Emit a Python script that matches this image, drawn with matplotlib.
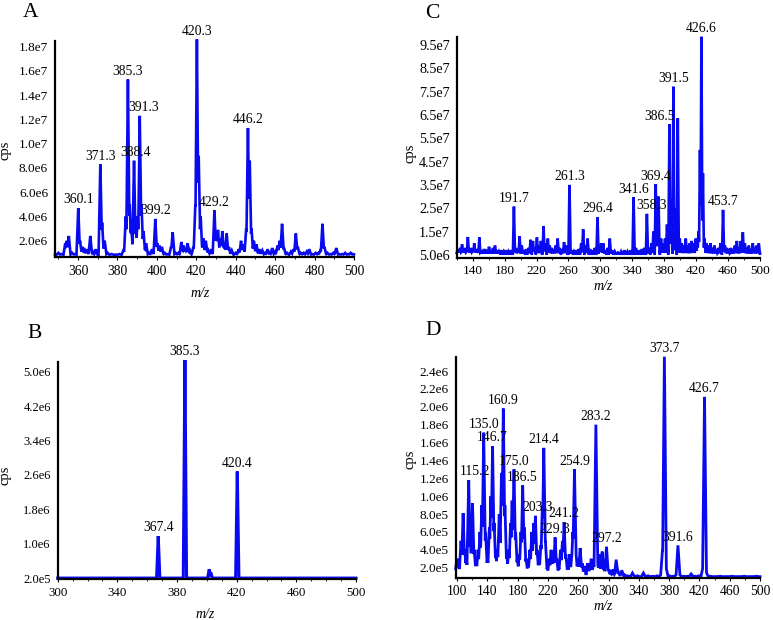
import numpy as np
import matplotlib
matplotlib.use("Agg")
import matplotlib.pyplot as plt
from matplotlib.ticker import MultipleLocator, FixedLocator, FuncFormatter

plt.rcParams['font.family'] = ['Liberation Serif', 'DejaVu Serif']

# ---------------- data (m/z, intensity in cps) ----------------
mz_A = [
    350.0, 351.5, 353.5, 354.3, 355.3, 357.0, 358.5, 360.1, 361.0, 362.3,
    363.5, 364.5, 366.2, 367.5, 369.0, 371.3, 372.2, 373.5, 375.0, 377.0,
    379.0, 381.0, 383.0, 384.2, 385.3, 386.2, 387.0, 388.4, 389.3, 390.2,
    391.3, 392.2, 393.2, 394.5, 396.0, 397.5, 399.2, 400.2, 401.3, 402.5,
    404.0, 405.5, 407.2, 408.0, 409.5, 411.0, 412.4, 413.6, 414.6, 415.6,
    416.8, 418.5, 419.5, 420.3, 421.2, 422.2, 423.5, 424.8, 426.0, 427.5,
    429.2, 430.2, 431.0, 432.2, 433.2, 434.2, 435.4, 436.5, 438.0, 440.0,
    441.5, 442.7, 443.8, 445.3, 446.2, 447.1, 448.0, 449.2, 450.5, 452.0,
    453.5, 455.0, 456.2, 457.3, 458.5, 460.0, 461.2, 462.3, 463.5, 464.5,
    466.0, 468.0, 469.3, 470.5, 471.5, 473.0, 474.5, 476.0, 477.3, 478.8,
    480.5, 482.0, 483.0, 484.0, 485.0, 486.5, 488.0, 489.5, 491.0, 492.5,
    494.0, 495.5, 497.0, 498.3, 499.5]
int_A_e6 = [
    1.0, 0.9, 1.8, 2.0, 2.4, 1.0, 0.9, 4.7, 2.0, 1.5,
    1.2, 1.3, 2.4, 1.1, 1.3, 8.3, 3.5, 2.0, 1.0, 0.9,
    0.8, 0.9, 1.2, 4.0, 15.3, 5.0, 3.2, 8.6, 3.0, 4.0,
    12.3, 5.0, 2.8, 1.8, 1.0, 1.3, 3.8, 1.8, 1.6, 1.5,
    1.0, 0.9, 1.5, 2.7, 1.0, 1.0, 1.9, 1.6, 1.3, 1.8,
    1.2, 1.5, 5.0, 18.6, 9.0, 4.0, 2.2, 2.0, 1.2, 1.3,
    4.5, 2.6, 2.9, 2.2, 2.8, 1.8, 2.6, 1.5, 1.2, 1.0,
    1.3, 2.0, 1.7, 3.0, 11.3, 8.6, 3.0, 2.0, 1.7, 1.3,
    1.2, 1.0, 1.3, 1.0, 1.4, 1.1, 1.6, 2.0, 3.4, 1.4,
    1.0, 1.1, 1.3, 2.6, 1.5, 1.0, 1.0, 1.1, 1.3, 0.9,
    1.0, 1.0, 1.2, 3.4, 1.5, 1.0, 0.9, 1.0, 1.4, 0.9,
    0.9, 1.0, 0.9, 1.0, 0.9]
labels_A = [360.1, 371.3, 385.3, 388.4, 391.3, 399.2, 420.3, 429.2, 446.2]
xticks_A = [360, 380, 400, 420, 440, 460, 480, 500]

mz_B = [367.4, 385.3, 401.6, 402.6, 420.4]
int_B_e5 = [11.8, 52.7, 4.1, 3.4, 26.8]
labels_B = [367.4, 385.3, 420.4]
xticks_B = [300, 340, 380, 420, 460, 500]

mz_C = [
    121.0, 123.0, 124.5, 126.7, 128.5, 130.5, 132.5, 134.0, 136.0, 138.0,
    140.0, 142.0, 144.0, 146.0, 148.4, 150.5, 153.0, 155.5, 158.0, 160.5,
    163.0, 165.5, 168.0, 170.5, 173.0, 176.0, 179.0, 182.0, 185.0, 188.0,
    191.7, 194.0, 196.5, 198.8, 201.5, 204.0, 207.0, 210.0, 212.5, 215.5,
    217.5, 220.5, 223.0, 225.5, 228.8, 231.0, 234.2, 236.5, 239.0, 241.5,
    244.0, 246.5, 249.0, 252.0, 254.5, 257.0, 261.3, 264.0, 267.0, 270.0,
    273.0, 276.0, 278.4, 281.5, 284.0, 287.0, 290.0, 293.0, 296.4, 299.0,
    301.0, 303.5, 306.0, 309.0, 311.8, 314.5, 318.0, 322.0, 326.0, 330.0,
    334.0, 338.0, 341.6, 344.5, 348.0, 352.0, 355.0, 358.3, 361.0, 364.0,
    366.5, 369.4, 371.5, 372.8, 376.0, 378.5, 381.0, 383.5, 386.5, 388.8,
    391.5, 394.0, 397.0, 399.5, 402.0, 404.5, 407.0, 409.5, 412.0, 414.5,
    417.0, 419.5, 421.5, 423.0, 424.8, 426.6, 428.5, 430.5, 433.0, 435.5,
    438.0, 440.5, 443.0, 445.5, 448.0, 450.5, 453.7, 456.0, 458.5, 461.0,
    463.5, 466.0, 468.5, 471.0, 473.5, 476.0, 478.5, 481.0, 483.5, 486.0,
    488.5, 491.0, 493.5, 496.0, 498.5]
int_C_e7 = [
    0.7, 0.75, 0.8, 0.95, 0.7, 0.8, 0.75, 1.27, 0.7, 0.8,
    0.75, 1.0, 0.7, 0.75, 1.25, 0.7, 0.65, 0.75, 0.7, 0.85,
    0.7, 0.8, 0.9, 0.7, 0.65, 0.7, 0.65, 0.7, 0.65, 0.7,
    2.57, 0.8, 0.75, 1.3, 0.9, 0.7, 0.75, 0.8, 1.15, 1.1,
    0.8, 1.25, 0.9, 1.1, 1.74, 1.0, 1.2, 0.9, 0.8, 0.75,
    0.9, 1.2, 0.8, 0.75, 1.05, 0.9, 3.5, 0.7, 0.65, 0.7,
    0.75, 1.0, 1.6, 0.9, 1.2, 0.75, 0.7, 0.8, 2.12, 0.8,
    1.0, 1.0, 0.7, 0.8, 1.2, 0.7, 0.65, 0.6, 0.65, 0.7,
    0.65, 0.7, 2.97, 0.8, 0.7, 0.75, 0.8, 2.26, 0.8, 1.0,
    1.5, 3.53, 1.6, 3.0, 1.2, 1.0, 1.2, 1.8, 6.1, 2.5,
    7.71, 2.5, 6.36, 1.2, 1.0, 0.9, 1.2, 0.9, 1.0, 1.1,
    1.0, 1.2, 1.0, 1.5, 5.0, 9.85, 4.0, 1.2, 1.0, 0.9,
    1.0, 0.8, 0.9, 0.75, 0.8, 1.0, 2.43, 0.9, 0.8, 0.75,
    0.8, 0.75, 0.9, 1.1, 0.8, 1.1, 1.47, 1.0, 0.8, 0.9,
    0.75, 1.0, 0.8, 0.9, 1.0]
labels_C = [191.7, 261.3, 296.4, 341.6, 358.3, 369.4, 386.5, 391.5, 426.6, 453.7]
xticks_C = [140, 180, 220, 260, 300, 340, 380, 420, 460, 500]

mz_D = [
    99.0, 101.0, 103.0, 105.0, 107.8, 110.0, 112.0, 115.2, 117.5, 120.2,
    122.5, 125.0, 127.5, 130.0, 132.5, 135.0, 137.5, 140.0, 142.5, 144.5,
    146.7, 148.8, 151.0, 153.0, 155.5, 158.5, 160.9, 163.0, 165.5, 168.0,
    170.5, 172.5, 175.0, 177.2, 179.5, 182.0, 184.2, 186.5, 188.7, 191.0,
    193.5, 196.0, 198.5, 201.0, 203.3, 205.5, 208.0, 210.5, 212.5, 214.4,
    216.5, 219.0, 221.5, 224.0, 226.5, 229.3, 231.5, 234.0, 236.5, 239.0,
    241.2, 243.5, 246.0, 248.5, 251.4, 252.8, 254.9, 257.0, 259.5, 262.4,
    265.0, 268.0, 272.5, 275.0, 277.0, 280.0, 283.2, 285.5, 288.0, 291.5,
    294.0, 297.2, 300.0, 303.0, 306.0, 310.0, 313.0, 317.5, 321.0, 325.0,
    331.5, 338.0, 346.0, 352.0, 358.0, 364.0, 369.0, 371.2, 373.7, 376.0,
    380.0, 385.0, 389.0, 391.6, 394.0, 399.0, 404.0, 409.0, 414.0, 419.0,
    424.5, 426.7, 429.0, 434.0, 440.0, 447.0, 455.0, 463.0, 471.0, 479.0,
    487.0, 495.0]
int_D_e5 = [
    2.5, 3.0, 2.0, 5.0, 8.1, 4.0, 3.0, 11.8, 5.0, 9.2,
    4.0, 2.8, 4.0, 6.0, 9.0, 17.1, 6.0, 3.0, 6.5, 10.0,
    15.6, 7.0, 3.5, 4.0, 8.0, 12.6, 19.8, 9.0, 3.5, 4.0,
    7.0, 9.5, 13.0, 6.0, 3.0, 3.5, 6.0, 11.2, 6.5, 3.0,
    2.5, 4.0, 6.0, 7.0, 7.8, 4.0, 3.0, 4.5, 9.0, 15.4,
    5.0, 2.0, 3.0, 4.0, 3.5, 5.4, 3.0, 2.0, 4.0, 5.0,
    7.1, 3.5, 2.0, 3.5, 3.3, 6.0, 13.0, 3.5, 3.0, 4.2,
    2.5, 2.2, 2.5, 2.0, 3.0, 2.5, 18.0, 2.5, 3.5, 3.8,
    2.0, 4.35, 1.8, 1.5, 1.8, 2.9, 1.5, 1.7, 1.2, 1.1,
    1.4, 1.1, 1.4, 1.1, 1.05, 1.1, 1.2, 4.0, 25.6, 2.0,
    1.1, 1.05, 1.2, 4.5, 1.2, 1.05, 1.05, 1.3, 1.05, 1.1,
    2.0, 21.1, 1.5, 1.05, 1.0, 1.05, 1.0, 1.05, 1.0, 1.05,
    1.0, 1.05]
labels_D = [115.2, 135.0, 146.7, 160.9, 175.0, 186.5, 203.3, 214.4, 229.3,
            241.2, 254.9, 283.2, 297.2, 373.7, 391.6, 426.7]
xticks_D = [100, 140, 180, 220, 260, 300, 340, 380, 420, 460, 500]

# ---------------- styling ----------------
W, H = 773, 620
BLUE = '#0a0af0'
fig = plt.figure(figsize=(W / 100, H / 100), dpi=100)


def fx(px):
    return px / W


def fy(py):
    return 1 - py / H


def sci(v, pos=None):
    if v == 0:
        return '0'
    e = int(np.floor(np.log10(abs(v)) + 1e-9))
    m = v / 10 ** e
    return f"{m:.1f}e{e}"


def profile(grid, mz, ints, base, w):
    y = np.full_like(grid, base)
    for m, h in zip(mz, ints):
        tri = base + (h - base) * np.clip(1 - np.abs(grid - m) / w, 0, None)
        y = np.maximum(y, tri)
    return y


def panel(box, mz, ints, scale, base, w, lw, xlim, ylim, xticks, xmin, yticks,
          labels, label_off, ytick_fs, xtick_fs):
    l, r, t, b = box
    ax = fig.add_axes([fx(l), fy(b), fx(r) - fx(l), fy(t) - fy(b)])
    mz = np.asarray(mz, float)
    ints = np.asarray(ints, float) * scale
    grid = np.union1d(np.arange(xlim[0], xlim[1] + 0.05, 0.1), mz)
    y = profile(grid, mz, ints, base, w)
    ax.plot(grid, y, color=BLUE, lw=lw, solid_joinstyle='miter', clip_on=False)
    ax.set_xlim(*xlim)
    ax.set_ylim(*ylim)
    for s in ('top', 'right'):
        ax.spines[s].set_visible(False)
    for s in ('left', 'bottom'):
        ax.spines[s].set_linewidth(1.6)
        ax.spines[s].set_zorder(3)
    ax.xaxis.set_major_locator(FixedLocator(xticks))
    ax.xaxis.set_minor_locator(MultipleLocator(xmin))
    ax.yaxis.set_major_locator(FixedLocator(yticks))
    ax.yaxis.set_major_formatter(FuncFormatter(sci))
    ax.tick_params(axis='x', which='major', length=2.5, width=0.8, pad=3,
                   labelsize=xtick_fs)
    ax.tick_params(axis='x', which='minor', length=1.5, width=0.6)
    ax.tick_params(axis='y', which='both', length=0, pad=5, labelsize=ytick_fs)
    for lab in labels:
        h = ints[np.argmin(np.abs(mz - lab))]
        dx = label_off.get(lab, 0)
        ax.annotate(f"{lab:.1f}", (lab, h), xytext=(dx, 1.2),
                    textcoords='offset points', ha='center', va='bottom',
                    fontsize=9.8, annotation_clip=False)
    return ax


# A
panel((55, 354, 41, 257), mz_A, int_A_e6, 1e6, 0.85e6, 0.9, 1.9,
      (348.3, 500), (0.66e6, 1.847e7), xticks_A, 10,
      np.arange(2e6, 1.81e7, 2e6), labels_A, {391.3: 3, 388.4: 1},
      9.5, 9.8)
# C
panel((456.7, 760, 37, 257.7), mz_C, int_C_e7, 1e7, 5.5e6, 1.3, 1.9,
      (120, 500), (3.8e6, 9.84e7), xticks_C, 20,
      np.arange(5e6, 9.51e7, 1e7), labels_C, {386.5: -7, 358.3: 3.5},
      10.2, 9.5)
# B
panel((57.7, 356, 361.7, 579.3), mz_B, int_B_e5, 1e5, 2.05e5, 1.1, 2.2,
      (300, 500), (1.77e5, 5.23e6), xticks_B, 10,
      np.arange(2e5, 5.01e6, 8e5), labels_B, {},
      9.0, 9.3)
# D
panel((455.7, 760, 356.7, 577.7), mz_D, int_D_e5, 1e5, 1.0e5, 2.6, 2.0,
      (98, 500), (0.88e5, 2.56e6), xticks_D, 20,
      np.arange(2e5, 2.41e6, 2e5), labels_D, {115.2: 4.5, 203.3: 1.5},
      9.5, 9.8)

# panel letters
for txt, x, y in [('A', 23, 17), ('C', 425, 18), ('B', 27, 338), ('D', 425, 335)]:
    fig.text(fx(x), fy(y), txt, fontsize=15.5, ha='left', va='baseline')

# y labels
for x, y in [(5, 150), (410, 153), (5, 475), (410, 459)]:
    fig.text(fx(x), fy(y), 'cps', rotation=90, fontsize=10.5,
             ha='center', va='center')

# x labels
for x, y in [(200, 293), (603, 287), (205, 614), (603, 606)]:
    fig.text(fx(x), fy(y), 'm/z', style='italic', fontsize=10,
             ha='center', va='center')

fig.savefig('out.png', dpi=100)
